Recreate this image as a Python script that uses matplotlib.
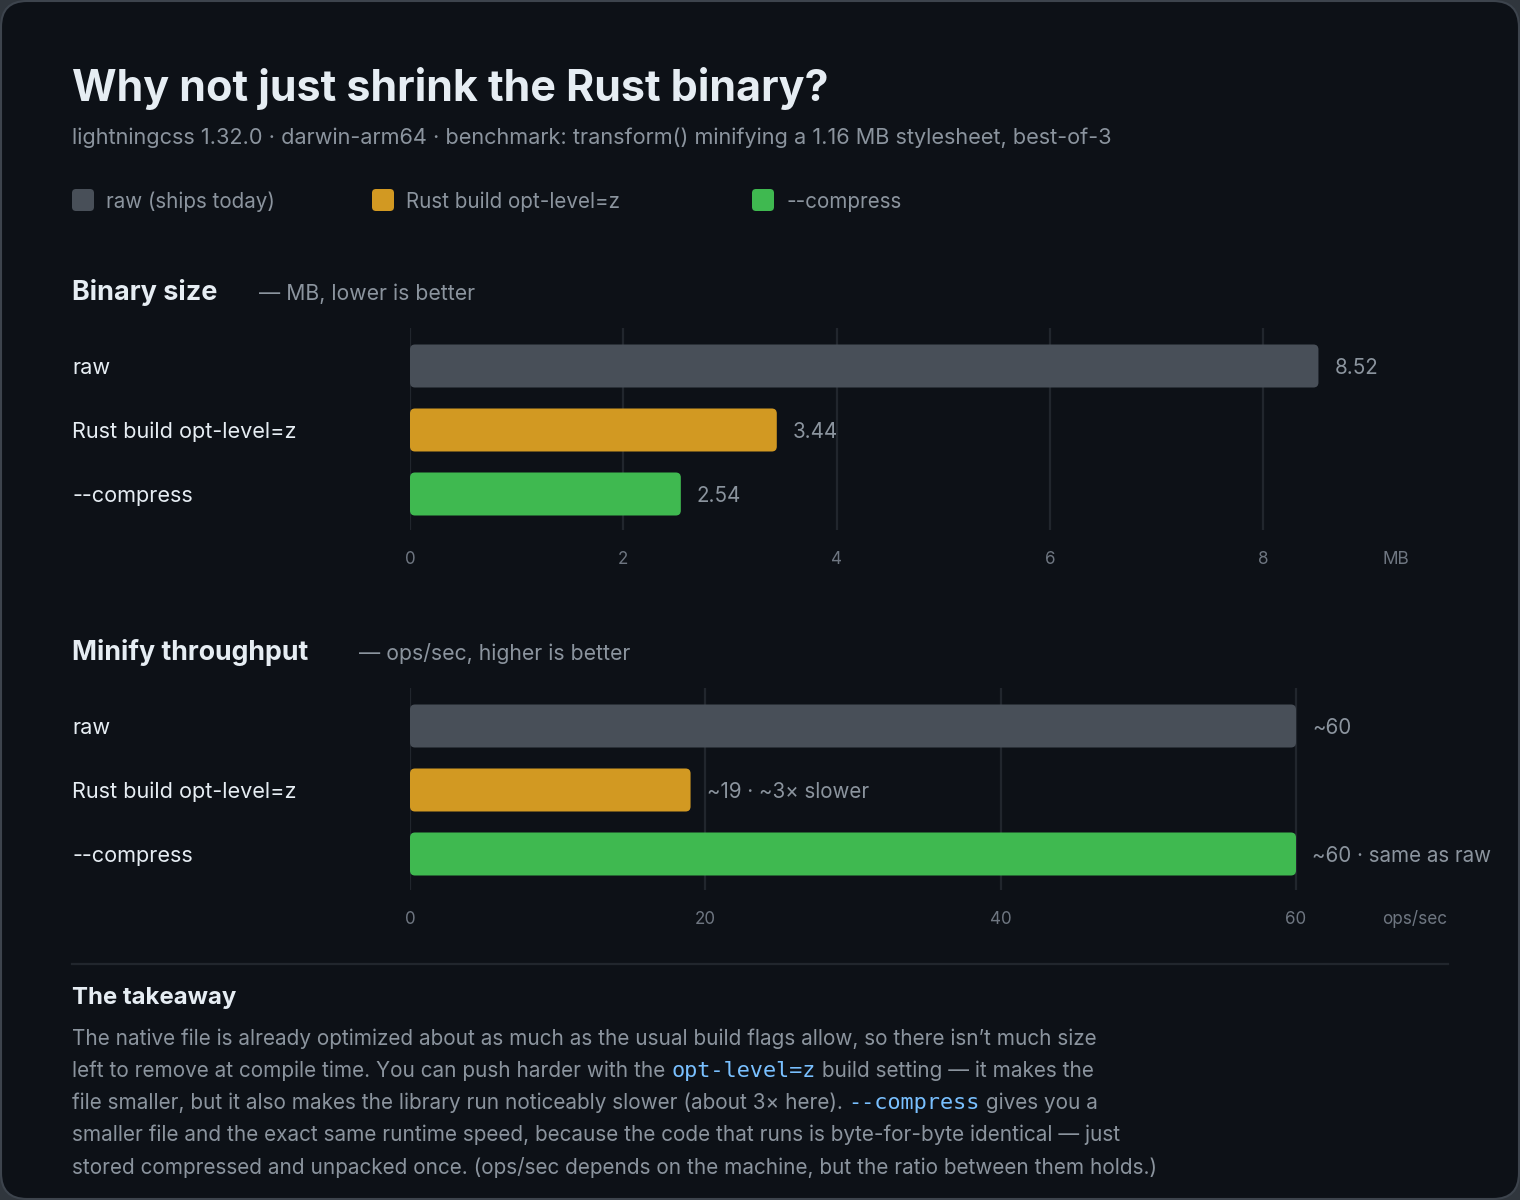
import matplotlib.pyplot as plt
from matplotlib.patches import FancyBboxPatch
import numpy as np

## data
categories = ["raw", "Rust build opt-level=z", "--compress"]
legend_labels = ["raw (ships today)", "Rust build opt-level=z", "--compress"]
colors = ["#484f58", "#d29922", "#3fb950"]

size_mb = [8.52, 3.44, 2.54]
size_labels = ["8.52", "3.44", "2.54"]
size_ticks = [0, 2, 4, 6, 8]

ops_sec = [60, 19, 60]
ops_labels = ["~60", "~19 \u00b7 ~3\u00d7 slower", "~60 \u00b7 same as raw"]
ops_ticks = [0, 20, 40, 60]

title = "Why not just shrink the Rust binary?"
subtitle = ("lightningcss 1.32.0 \u00b7 darwin-arm64 \u00b7 benchmark: transform() "
            "minifying a 1.16 MB stylesheet, best-of-3")

body = [
    [("The native file is already optimized about as much as the usual build flags allow, so there isn\u2019t much size", 0)],
    [("left to remove at compile time. You can push harder with the ", 0), ("opt-level=z", 1), (" build setting \u2014 it makes the", 0)],
    [("file smaller, but it also makes the library run noticeably slower (about 3\u00d7 here). ", 0), ("--compress", 1), (" gives you a", 0)],
    [("smaller file and the exact same runtime speed, because the code that runs is byte-for-byte identical \u2014 just", 0)],
    [("stored compressed and unpacked once. (ops/sec depends on the machine, but the ratio between them holds.)", 0)],
]

BG = "#0d1117"
WHITE = "#e6edf3"
MUTED = "#8b949e"
DIM = "#6e7681"
GRID = "#21262d"
CODE = "#79c0ff"
FONT = ["Inter", "DejaVu Sans"]
MONO = ["DejaVu Sans Mono"]

W, H = 1520, 1200
fig = plt.figure(figsize=(W / 100, H / 100), dpi=100)
fig.patch.set_facecolor("#30363d")

ov = fig.add_axes([0, 0, 1, 1])
ov.set_xlim(0, W)
ov.set_ylim(H, 0)
ov.axis("off")
ov.add_patch(FancyBboxPatch((1, 1), W - 2, H - 2, boxstyle="round,pad=0,rounding_size=26",
                            fc=BG, ec="#3d444d", lw=1.5, zorder=0))


def px(v):
    return v * 0.72


def T(x, y, s, size, color=WHITE, weight="normal", ha="left", family=FONT):
    return ov.text(x, y + 2, s, fontsize=px(size), color=color, weight=weight, ha=ha,
                   va="center", family=family)


T(72, 86, title, 43, weight="bold")
T(72, 136, subtitle, 21.7, color=MUTED)

leg_x = [72, 372, 752]
for lx, lab, c in zip(leg_x, legend_labels, colors):
    ov.add_patch(FancyBboxPatch((lx, 189), 22, 22, boxstyle="round,pad=0,rounding_size=4",
                                fc=c, ec="none"))
    T(lx + 34, 200, lab, 20.6, color=MUTED)

T(72, 291, "Binary size", 27, weight="bold")
T(259, 292, "\u2014 MB, lower is better", 21.2, color=MUTED)
T(72, 651, "Minify throughput", 26.8, weight="bold")
T(359, 652, "\u2014 ops/sec, higher is better", 21.2, color=MUTED)


def bar_panel(top, values, labels, ticks, unit_px, unit_label):
    # axes spanning grid region: top..top+202 px, x from 410
    left = 410
    width_px = 1100
    ax = fig.add_axes([left / W, 1 - (top + 202) / H, width_px / W, 202 / H])
    ax.set_facecolor("none")
    ax.set_xlim(0, width_px / unit_px)
    ax.set_ylim(164 / 64.0, -38 / 64.0)
    for s in ax.spines.values():
        s.set_visible(False)
    ax.set_yticks([])
    ax.set_xticks(ticks)
    ax.set_xticklabels([str(t) for t in ticks])
    ax.tick_params(axis="x", length=0, pad=px(21), labelsize=px(17), labelcolor=DIM)
    for lab in ax.get_xticklabels():
        lab.set_family(FONT)
    for t in ticks:
        ax.axvline(t, color=GRID, lw=1.6, zorder=0)
    h = 43 / 64.0
    rx = 5 / unit_px
    ry = 5 / 64.0
    for i, (v, c) in enumerate(zip(values, colors)):
        ax.add_patch(FancyBboxPatch((0, i - h / 2), v, h,
                                    boxstyle="round,pad=0,rounding_size=%f" % rx,
                                    mutation_aspect=ry / rx, fc=c, ec="none", zorder=2))
        ax.annotate(labels[i], (v, i), xytext=(16, -2), textcoords="offset pixels",
                    va="center", ha="left", fontsize=px(20.6), color=MUTED, family=FONT)
        T(72, top + 38 + 64 * i, categories[i], 21.7)
    T(1382, top + 229, unit_label, 17.2, color=DIM)


bar_panel(328, size_mb, size_labels, size_ticks, (1263 - 410) / 8.0, "MB")
bar_panel(688, ops_sec, ops_labels, ops_ticks, (1296 - 410) / 60.0, "ops/sec")

ov.plot([72, 1448], [964, 964], color=GRID, lw=1.6)
T(72, 996, "The takeaway", 24, weight="bold")

fig.canvas.draw()
r = fig.canvas.get_renderer()
for k, line in enumerate(body):
    x = 72
    y = 1037 + 32 * k
    for seg, code in line:
        if code:
            t = T(x, y, seg, 21.9, color=CODE, family=MONO)
        else:
            t = T(x, y, seg, 20.75, color=MUTED)
        bb = t.get_window_extent(renderer=r)
        x += bb.width

fig.savefig("out.png", dpi=100, facecolor=fig.get_facecolor())
